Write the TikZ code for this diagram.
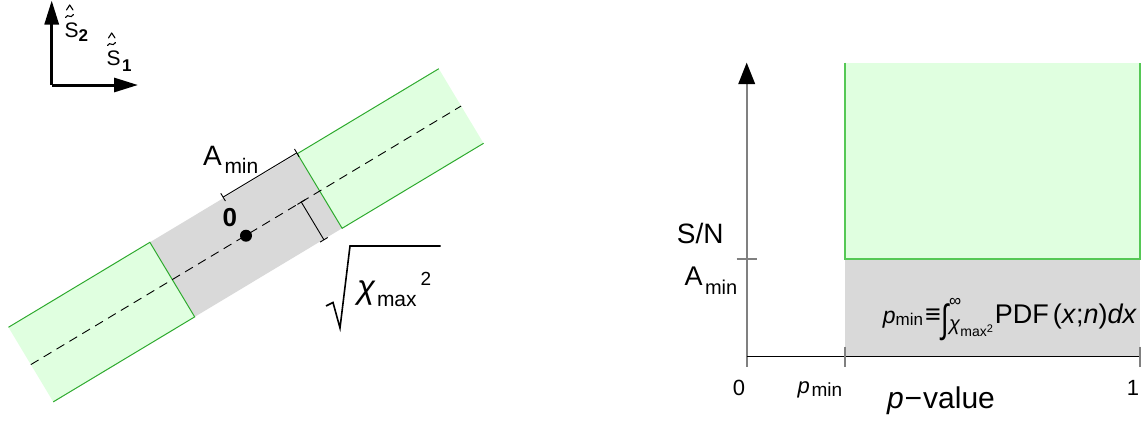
\documentclass[tikz,border=0pt]{standalone}
\usepackage{fontspec}
\setmainfont{Liberation Sans}
\usetikzlibrary{arrows.meta}
\definecolor{lgreen}{HTML}{E0FFE0}
\definecolor{bgreen}{HTML}{2EAA2E}
\definecolor{pgreen}{HTML}{55C855}
\definecolor{lgray}{HTML}{D9D9D9}
\definecolor{axgray}{HTML}{808080}
\newcommand{\fs}[1]{\fontsize{#1}{#1}\selectfont}
\tikzset{
  lbl/.style={inner sep=0pt, outer sep=0pt, anchor=base west},
  bigarrow/.style={line width=3pt, -{Triangle[length=24pt,width=14pt]}},
  dimline/.style={line width=0.9pt, black},
  bandedge/.style={bgreen, line width=1pt},
  accent/.style={line width=1.1pt, line cap=round, line join=round},
}
\begin{document}
\begin{tikzpicture}[x=1pt,y=-1pt]
\useasboundingbox (0,0) rectangle (1144,421);

% ---------- top-left axes ----------
\coordinate (o) at (51.7,85);
\coordinate (yt) at (51.7,0.5);
\coordinate (xt) at (138,85);
\draw[bigarrow] (o) -- (yt);
\draw[bigarrow] (o) -- (xt);
\node[lbl] (s2) at (64.5,37) {\fs{21}S};
\node[lbl] (s2i) at (78.5,41.5) {\fs{17}\bfseries 2};
\draw[accent] (65.5,17.5) .. controls (68,12.5) and (70.5,20) .. (73.5,14.5);
\draw[accent] (66.5,10) -- (69.7,5) -- (73,10);
\node[lbl] (s1) at (106.5,65) {\fs{21}S};
\node[lbl] (s1i) at (122,71.5) {\fs{17}\bfseries 1};
\draw[accent] (107.5,45.5) .. controls (110,40.5) and (112.5,48) .. (115.5,42.5);
\draw[accent] (108.5,38) -- (111.7,33) -- (115,38);

% ---------- tilted band ----------
\begin{scope}[shift={(246,235.3)}, rotate=31]
  \fill[lgray] (-86,-43.5) rectangle (86,43.5);
  \fill[lgreen] (86,-43.5) rectangle (251,43.5);
  \fill[lgreen] (-251,-43.5) rectangle (-86,43.5);
  \draw[bandedge] (251,-43.5) -- (86,-43.5) -- (86,43.5) -- (251,43.5);
  \draw[bandedge] (-251,-43.5) -- (-86,-43.5) -- (-86,43.5) -- (-251,43.5);
  \coordinate (dl) at (-251,0);
  \coordinate (dr) at (251,0);
  \draw[line width=0.9pt, dash pattern=on 9pt off 6pt] (dl) -- (dr);
  % A_min dimension
  \coordinate (a0) at (0,-44.5);
  \coordinate (a1) at (86,-44.5);
  \draw[dimline] (a0) -- (a1);
  \draw[dimline] (0,-49) -- (0,-40);
  \draw[dimline] (86,-49) -- (86,-40);
  % sqrt chi dimension
  \coordinate (c0) at (64.5,0);
  \coordinate (c1) at (64.5,44);
  \draw[dimline] (c0) -- (c1);
  \draw[dimline] (60,0) -- (69,0);
  \draw[dimline] (60,44) -- (69,44);
\end{scope}
\fill (246,235.7) circle (6);
\node[lbl] (zero) at (222.5,226.7) {\fs{26}\bfseries 0};
\node[lbl] (amA) at (203,165) {\fs{28}A};
\node[lbl] (amS) at (224.5,173) {\fs{21}min};
% sqrt chi label
\draw[line width=1.6pt, line join=miter] (326,306) -- (333,302.5) -- (340,328) -- (350,246) -- (440.7,246);
\node[lbl] (chi) at (357,298.5) {\fs{33}\itshape χ};
\node[lbl] (chimax) at (377,306.7) {\fs{21}max};
\node[lbl] (chi2) at (420.5,285) {\fs{19}2};

% ---------- right plot ----------
\fill[lgreen] (845,62.5) rectangle (1140,259);
\fill[lgray] (845,259) rectangle (1140,356.7);
\draw[pgreen, line width=1.6pt] (845,62.5) -- (845,259) -- (1140,259) -- (1140,62.5);
\coordinate (yb) at (746.7,366.7);
\coordinate (ytop) at (746.7,62.7);
\draw[axgray, line width=1.7pt] (yb) -- (746.7,84);
\draw[draw=none, fill=black] (746.7,62.7) -- (755.2,84) -- (738.2,84) -- cycle;
\coordinate (x0) at (746.7,356.7);
\coordinate (x1) at (1140,356.7);
\draw[black, line width=1.3pt] (x0) -- (x1);
\draw[axgray, line width=1.5pt] (845,346.7) -- (845,366.7);
\draw[axgray, line width=1.5pt] (1140,346.7) -- (1140,367);
\draw[axgray, line width=1.5pt] (736.7,259) -- (756.7,259);

\node[lbl, anchor=base east] (sn) at (723.5,243) {\fs{28}S/N};
\node[lbl] (amA2) at (684.5,285.7) {\fs{27}A};
\node[lbl] (amS2) at (705,294) {\fs{20}min};
\node[lbl, anchor=base] (l0) at (739,395) {\fs{22}0};
\node[lbl] (pm) at (797.5,393) {\fs{22}\itshape p};
\node[lbl] (pms) at (811.5,396.5) {\fs{19}min};
\node[lbl, anchor=base] (l1) at (1133,395) {\fs{22}1};
\node[lbl] (pv) at (887,408) {\fs{30}\textit{p}\hspace{1pt}−\hspace{1pt}value};

\node[lbl, anchor=base east] (formula) at (1137,323.3) {\fs{27}%
{\fs{23}\textit{p}}{\fs{17}\raisebox{-2.5pt}{min}}\hspace{2pt}≡\hspace{1pt}%
\raisebox{-9pt}{\scalebox{1}[1.45]{∫}}%
\rlap{\raisebox{17pt}{\fs{17}∞}}%
\raisebox{-7pt}{\fs{20}\textit{χ}}\raisebox{-13pt}{\fs{14}max}\raisebox{-9pt}{\fs{11}2}%
\hspace{2pt}PDF\hspace{4pt}(\textit{x};\textit{n})\textit{dx}};
\end{tikzpicture}
\end{document}
